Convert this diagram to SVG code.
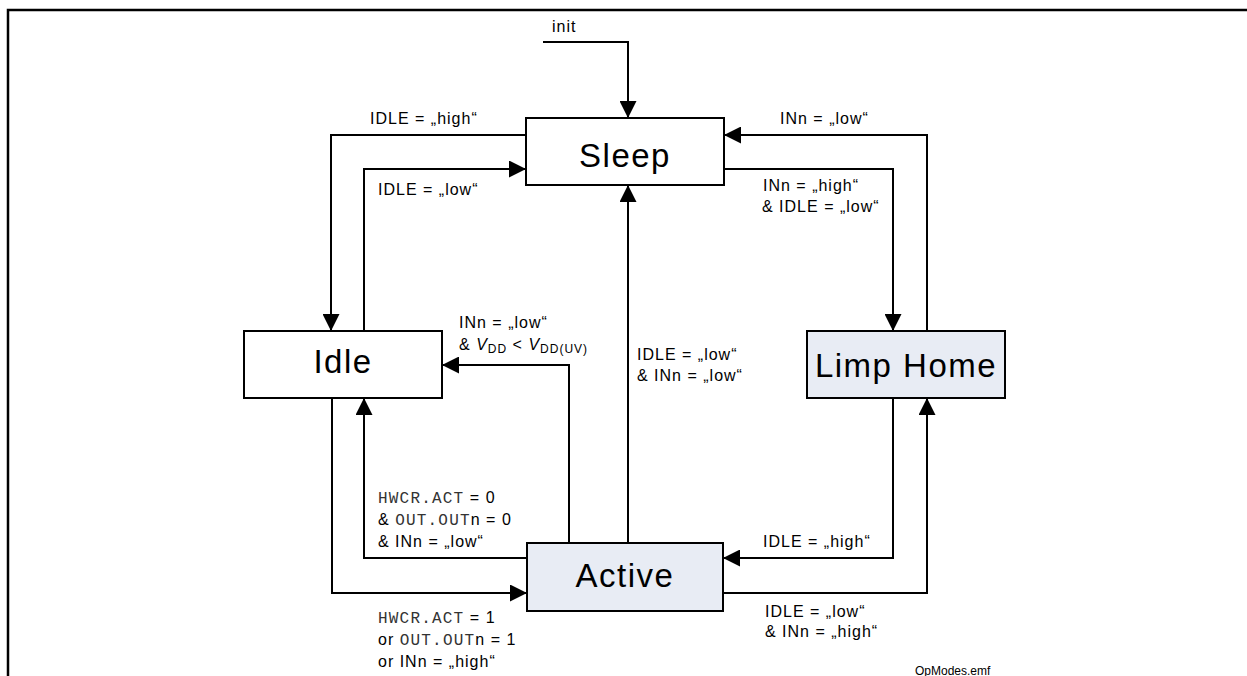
<svg xmlns="http://www.w3.org/2000/svg" width="1247" height="676" viewBox="0 0 1247 676">
<style>
.box{stroke:#000;stroke-width:2;fill:#fff}
.hl{fill:#e8ecf4}
.st{font-family:"Liberation Sans",Arial,sans-serif;font-size:33px;letter-spacing:1.5px;fill:#000;text-anchor:middle}
.lb{font-family:"Liberation Sans",Arial,sans-serif;font-size:16px;letter-spacing:1px;fill:#000}
.mono{font-family:"Liberation Mono","Courier New",monospace;font-size:16px;letter-spacing:1.2px;fill:#333}
.con{fill:none;stroke:#000;stroke-width:2}
.sm{font-family:"Liberation Sans",Arial,sans-serif;font-size:12px;fill:#000}
</style>
<defs>
<marker id="ah" markerUnits="userSpaceOnUse" markerWidth="17" markerHeight="17" refX="17" refY="8.5" orient="auto">
<path d="M0,0 L17,8.5 L0,17 z" fill="#000"/>
</marker>
</defs>
<path d="M8,676 V10 H1247" fill="none" stroke="#000" stroke-width="2.5"/>
<g id="connectors">
<path class="con" d="M543,42 H628 V118" marker-end="url(#ah)"/>
<path class="con" d="M526,135 H331 V331" marker-end="url(#ah)"/>
<path class="con" d="M364,331 V169 H526" marker-end="url(#ah)"/>
<path class="con" d="M927,331 V135 H724" marker-end="url(#ah)"/>
<path class="con" d="M724,169 H893 V331" marker-end="url(#ah)"/>
<path class="con" d="M628,543 V185" marker-end="url(#ah)"/>
<path class="con" d="M569,543 V365 H442" marker-end="url(#ah)"/>
<path class="con" d="M527,558 H364 V398" marker-end="url(#ah)"/>
<path class="con" d="M332,398 V593 H527" marker-end="url(#ah)"/>
<path class="con" d="M893,398 V558 H723" marker-end="url(#ah)"/>
<path class="con" d="M723,593 H927 V398" marker-end="url(#ah)"/>
</g>
<g id="labels">
<text class="lb" x="552" y="32">init</text>
<text class="lb" x="370" y="124">IDLE = &#x201E;high&#x201C;</text>
<text class="lb" x="378" y="195">IDLE = &#x201E;low&#x201C;</text>
<text class="lb" x="780" y="124">INn = &#x201E;low&#x201C;</text>
<text class="lb" x="763" y="191">INn = &#x201E;high&#x201C;</text>
<text class="lb" x="762" y="212">&amp; IDLE = &#x201E;low&#x201C;</text>
<text class="lb" x="459" y="328">INn = &#x201E;low&#x201C;</text>
<text class="lb" x="459" y="350">&amp; <tspan font-style="italic">V</tspan><tspan font-size="12" dy="3">DD</tspan><tspan dy="-3"> &lt; </tspan><tspan font-style="italic">V</tspan><tspan font-size="12" dy="3">DD(UV)</tspan></text>
<text class="lb" x="637" y="360">IDLE = &#x201E;low&#x201C;</text>
<text class="lb" x="637" y="381">&amp; INn = &#x201E;low&#x201C;</text>
<text class="lb" x="378" y="503"><tspan class="mono">HWCR.ACT</tspan> = 0</text>
<text class="lb" x="378" y="525">&amp; <tspan class="mono">OUT.OUT</tspan>n = 0</text>
<text class="lb" x="378" y="547">&amp; INn = &#x201E;low&#x201C;</text>
<text class="lb" x="378" y="623"><tspan class="mono">HWCR.ACT</tspan> = 1</text>
<text class="lb" x="378" y="645">or <tspan class="mono">OUT.OUT</tspan>n = 1</text>
<text class="lb" x="378" y="667">or INn = &#x201E;high&#x201C;</text>
<text class="lb" x="763" y="547">IDLE = &#x201E;high&#x201C;</text>
<text class="lb" x="765" y="617">IDLE = &#x201E;low&#x201C;</text>
<text class="lb" x="765" y="637">&amp; INn = &#x201E;high&#x201C;</text>
<text class="sm" x="915" y="675">OpModes.emf</text>
</g>
<g id="sleep">
<rect class="box" x="526" y="118" width="198" height="67"/>
<text class="st" x="625" y="167">Sleep</text>
</g>
<g id="idle">
<rect class="box" x="244" y="331" width="198" height="67"/>
<text class="st" x="343" y="373">Idle</text>
</g>
<g id="limphome">
<rect class="box hl" x="807" y="331" width="198" height="67"/>
<text class="st" x="906" y="377">Limp Home</text>
</g>
<g id="active">
<rect class="box hl" x="527" y="543" width="196" height="68"/>
<text class="st" x="625" y="587">Active</text>
</g>
</svg>
